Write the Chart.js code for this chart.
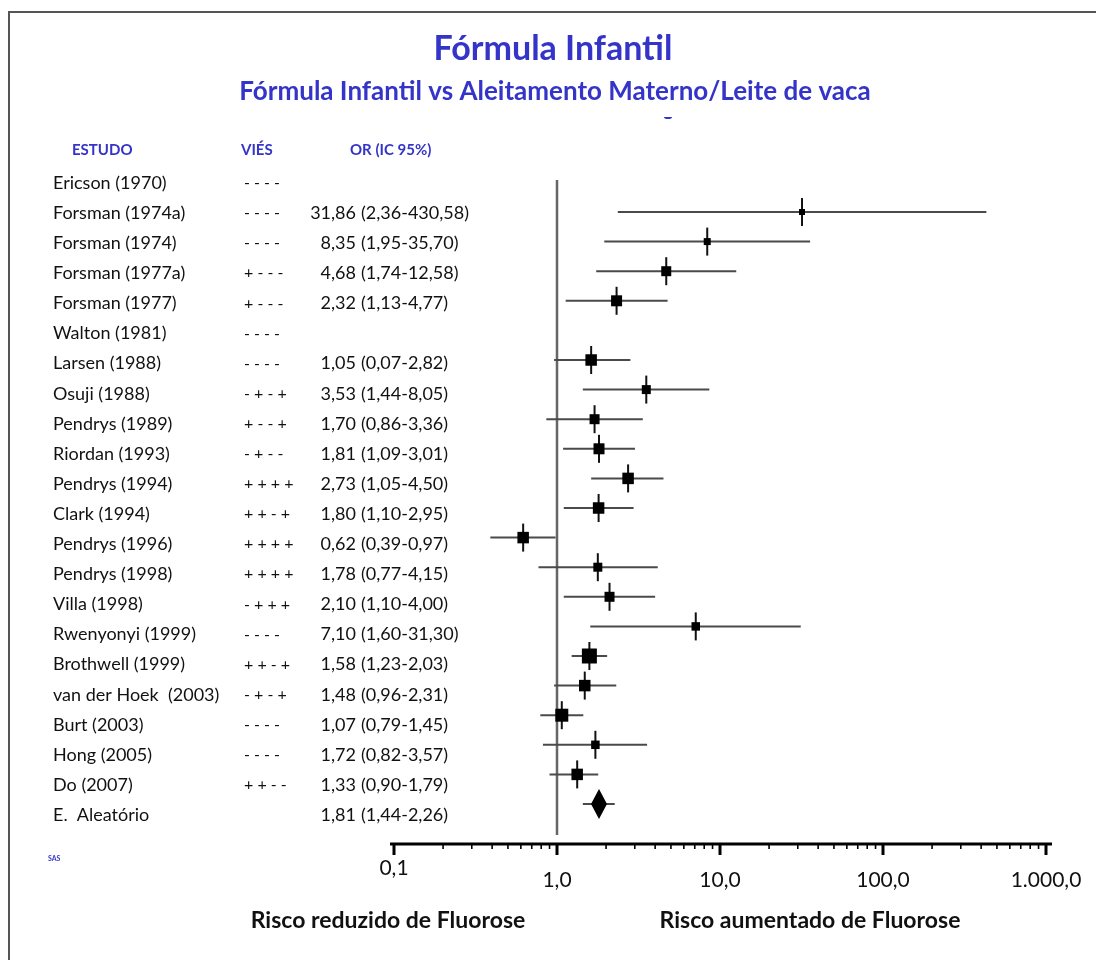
<!DOCTYPE html>
<html><head><meta charset="utf-8">
<script src="https://cdn.jsdelivr.net/npm/chart.js@4.4.1/dist/chart.umd.min.js"></script>
<style>html,body{margin:0;padding:0;background:#fff;}canvas{display:block}</style>
</head><body>
<canvas id="c" width="1096" height="960"></canvas>
<script>
// ---- data ----
const studies = ['Ericson (1970)','Forsman (1974a)','Forsman (1974)','Forsman (1977a)','Forsman (1977)','Walton (1981)','Larsen (1988)','Osuji (1988)','Pendrys (1989)','Riordan (1993)','Pendrys (1994)','Clark (1994)','Pendrys (1996)','Pendrys (1998)','Villa (1998)','Rwenyonyi (1999)','Brothwell (1999)','van der Hoek  (2003)','Burt (2003)','Hong (2005)','Do (2007)','E.  Aleatório'];
const bias = ['- - - -','- - - -','- - - -','+ - - -','+ - - -','- - - -','- - - -','- + - +','+ - - +','- + - -','+ + + +','+ + - +','+ + + +','+ + + +','- + + +','- - - -','+ + - +','- + - +','- - - -','- - - -','+ + - -',''];
const orLabel = ['','31,86','8,35','4,68','2,32','','1,05','3,53','1,70','1,81','2,73','1,80','0,62','1,78','2,10','7,10','1,58','1,48','1,07','1,72','1,33','1,81'];
const ciLabel = ['','(2,36-430,58)','(1,95-35,70)','(1,74-12,58)','(1,13-4,77)','','(0,07-2,82)','(1,44-8,05)','(0,86-3,36)','(1,09-3,01)','(1,05-4,50)','(1,10-2,95)','(0,39-0,97)','(0,77-4,15)','(1,10-4,00)','(1,60-31,30)','(1,23-2,03)','(0,96-2,31)','(0,79-1,45)','(0,82-3,57)','(0,90-1,79)','(1,44-2,26)'];
// plotted values (as read from the graphic)
const orPlot = [null,31.86,8.35,4.68,2.32,null,1.62,3.53,1.70,1.81,2.73,1.80,0.62,1.78,2.10,7.10,1.58,1.48,1.07,1.72,1.33,1.81];
const loPlot = [null,2.36,1.95,1.74,1.13,null,0.96,1.44,0.86,1.09,1.62,1.10,0.39,0.77,1.10,1.60,1.23,0.96,0.79,0.82,0.90,1.44];
const hiPlot = [null,430.58,35.70,12.58,4.77,null,2.82,8.6,3.36,3.01,4.50,2.95,0.98,4.15,4.00,31.30,2.03,2.31,1.45,3.57,1.79,2.26];
const weight = [null,6,7,10,11,null,11.5,9,10,11,11.5,11.5,11.5,9,10,8.5,15,11.5,13,8.5,11.5,null];
const pooledIndex = 21;
const xTickValues = [0.1,1,10,100,1000];
const xTickLabels = ['0,1','1,0','10,0','100,0','1.000,0'];

const BLUE = '#3434c8';
const FONT = 'Lato, "Liberation Sans", sans-serif';

// ---- datasets ----
const ciSets = [];
const tickPts = [], sqPts = [], sqR = [];
for (let i = 0; i < studies.length; i++) {
  if (orPlot[i] == null) continue;
  ciSets.push({type:'line', data:[{x:loPlot[i],y:i},{x:hiPlot[i],y:i}], borderColor:'#4a4a4a', borderWidth:2, pointRadius:0, showLine:true, order:3});
  if (i === pooledIndex) continue;
  tickPts.push({x:orPlot[i], y:i});
  sqPts.push({x:orPlot[i], y:i});
  sqR.push(weight[i] / Math.SQRT2);
}
// diamond marker for pooled estimate
const dia = document.createElement('canvas');
dia.width = 16; dia.height = 30;
(function(){const g = dia.getContext('2d'); g.fillStyle='#000'; g.beginPath(); g.moveTo(8,0); g.lineTo(16,15); g.lineTo(8,30); g.lineTo(0,15); g.closePath(); g.fill();})();

const rowPx = 29.6, topPx = 182, botPx = 844;
const yMin = -0.4 / rowPx;
const yMax = yMin + (botPx - topPx) / rowPx;

const decor = {
  id:'decor',
  beforeDatasetsDraw(chart){
    const ctx = chart.ctx, x = chart.scales.x, y = chart.scales.y, a = chart.chartArea;
    ctx.save();
    ctx.strokeStyle = '#666'; ctx.lineWidth = 2.5;
    const x1 = x.getPixelForValue(1);
    ctx.beginPath(); ctx.moveTo(x1, a.top - 2); ctx.lineTo(x1, y.getPixelForValue(22.05)); ctx.stroke();
    ctx.restore();
  },
  afterDraw(chart){
    const ctx = chart.ctx, x = chart.scales.x, a = chart.chartArea;
    ctx.save();
    // frame
    ctx.strokeStyle = '#555'; ctx.lineWidth = 2;
    ctx.beginPath(); ctx.moveTo(9, 960); ctx.lineTo(9, 12); ctx.lineTo(1096, 12); ctx.stroke();
    // x axis
    const ay = a.bottom;
    ctx.strokeStyle = '#000'; ctx.lineWidth = 3;
    ctx.beginPath(); ctx.moveTo(a.left - 4, ay); ctx.lineTo(a.right + 6, ay); ctx.stroke();
    for (let d = 0; d < xTickValues.length; d++) {
      const base = xTickValues[d];
      const px = x.getPixelForValue(base);
      ctx.lineWidth = 3; ctx.beginPath(); ctx.moveTo(px, ay); ctx.lineTo(px, ay + 11); ctx.stroke();
      if (d < xTickValues.length - 1) {
        for (let m = 2; m <= 9; m++) {
          const mp = x.getPixelForValue(base * m);
          ctx.lineWidth = 1.6; ctx.beginPath(); ctx.moveTo(mp, ay); ctx.lineTo(mp, ay + 5); ctx.stroke();
        }
      }
    }
    ctx.fillStyle = '#111'; ctx.font = '21px ' + FONT; ctx.textAlign = 'center'; ctx.textBaseline = 'middle';
    for (let d = 0; d < xTickValues.length; d++) {
      ctx.fillText(xTickLabels[d], x.getPixelForValue(xTickValues[d]), d === 0 ? ay + 24 : ay + 36);
    }
    // bottom captions
    ctx.font = 'bold 23px ' + FONT;
    ctx.fillText('Risco reduzido de Fluorose', 388, 921);
    ctx.fillText('Risco aumentado de Fluorose', 810, 921);
    // titles
    ctx.fillStyle = BLUE;
    ctx.font = 'bold 34px ' + FONT;
    ctx.fillText('Fórmula Infantil', 553, 49);
    ctx.font = 'bold 26px ' + FONT;
    ctx.fillText('Fórmula Infantil vs Aleitamento Materno/Leite de vaca', 555, 92);
    ctx.beginPath(); ctx.ellipse(668, 117, 4, 2, 0, 0, Math.PI); ctx.fill();
    // headers
    ctx.font = 'bold 15px ' + FONT; ctx.textAlign = 'left';
    ctx.fillText('ESTUDO', 72, 150);
    ctx.fillText('VIÉS', 241, 150);
    ctx.fillText('OR (IC 95%)', 350, 150);
    ctx.font = 'bold 7px ' + FONT;
    ctx.fillText('SAS', 48, 859);
    // table rows
    ctx.fillStyle = '#111';
    for (let i = 0; i < studies.length; i++) {
      const ty = 183 + i * 30.1;
      ctx.textAlign = 'left';
      ctx.font = '18px ' + FONT;
      ctx.fillText(studies[i], 53, ty);
      if (orLabel[i]) {
        ctx.textAlign = 'right'; ctx.fillText(orLabel[i], 356, ty);
        ctx.textAlign = 'left'; ctx.fillText(ciLabel[i], 361, ty);
      }
      ctx.font = '16px ' + FONT;
      ctx.fillText(bias[i], 244, ty);
    }
    ctx.restore();
  }
};

new Chart(document.getElementById('c'), {
  type:'scatter',
  data:{datasets:[
    ...ciSets,
    {data:tickPts, pointStyle:'line', rotation:90, pointRadius:14, borderColor:'#111', borderWidth:2, order:2},
    {data:sqPts, pointStyle:'rect', pointRadius:sqR, backgroundColor:'#000', borderWidth:0, order:1},
    {data:[{x:orPlot[pooledIndex], y:pooledIndex}], pointStyle:dia, pointRadius:15, order:1}
  ]},
  options:{
    responsive:false, animation:false, events:[],
    layout:{padding:{left:394, right:50, top:topPx, bottom:960 - botPx}},
    plugins:{legend:{display:false}, tooltip:{enabled:false}},
    scales:{
      x:{type:'logarithmic', min:0.1, max:1000, display:false},
      y:{type:'linear', min:yMin, max:yMax, reverse:true, display:false}
    }
  },
  plugins:[decor]
});
</script>
</body></html>
